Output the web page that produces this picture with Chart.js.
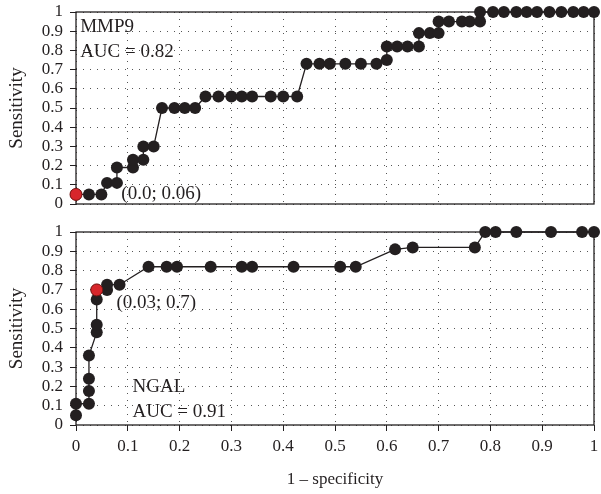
<!DOCTYPE html>
<html>
<head>
<meta charset="utf-8">
<script src="https://cdn.jsdelivr.net/npm/chart.js@4/dist/chart.umd.min.js"></script>
<style>
  html, body { margin: 0; padding: 0; background: #fff; }
  #wrap { position: relative; width: 601px; height: 494px; }
  .box { position: absolute; left: 0; width: 601px; }
  #top-box { top: 0; height: 218px; }
  #bottom-box { top: 218px; height: 276px; }
</style>
</head>
<body>
<div id="wrap">
  <div class="box" id="top-box"><canvas id="mmp9-chart"></canvas></div>
  <div class="box" id="bottom-box"><canvas id="ngal-chart"></canvas></div>
</div>
<script>
// tick labels
const xTicks = ['0', '0.1', '0.2', '0.3', '0.4', '0.5', '0.6', '0.7', '0.8', '0.9', '1'];
const yTicks = ['0', '0.1', '0.2', '0.3', '0.4', '0.5', '0.6', '0.7', '0.8', '0.9', '1'];

// MMP9 ROC curve (1 - specificity, sensitivity)
const mmp9X = [0, 0.025, 0.049, 0.06, 0.079, 0.079, 0.11, 0.11, 0.13, 0.13, 0.15,
  0.166, 0.19, 0.21, 0.23, 0.25, 0.275, 0.30, 0.32, 0.34, 0.376, 0.40, 0.427,
  0.445, 0.47, 0.49, 0.52, 0.55, 0.58, 0.60, 0.60, 0.62, 0.64, 0.662, 0.662,
  0.683, 0.70, 0.70, 0.72, 0.745, 0.76, 0.78, 0.78, 0.805, 0.826, 0.85, 0.87,
  0.89, 0.914, 0.937, 0.96, 0.98, 1];
const mmp9Y = [0.05, 0.05, 0.05, 0.11, 0.11, 0.19, 0.19, 0.23, 0.23, 0.30, 0.30,
  0.50, 0.50, 0.50, 0.50, 0.56, 0.56, 0.56, 0.56, 0.56, 0.56, 0.56, 0.56,
  0.73, 0.73, 0.73, 0.73, 0.73, 0.73, 0.75, 0.82, 0.82, 0.82, 0.82, 0.89,
  0.89, 0.89, 0.95, 0.95, 0.95, 0.95, 0.95, 1, 1, 1, 1, 1,
  1, 1, 1, 1, 1, 1];
const mmp9Cut = [0, 0.05];

// NGAL ROC curve
const ngalX = [0, 0, 0.025, 0.025, 0.025, 0.025, 0.04, 0.04, 0.04, 0.04, 0.06, 0.06,
  0.084, 0.14, 0.175, 0.195, 0.26, 0.32, 0.34, 0.42, 0.51, 0.54, 0.616, 0.65,
  0.77, 0.79, 0.81, 0.85, 0.917, 0.977, 1];
const ngalY = [0.05, 0.11, 0.11, 0.176, 0.24, 0.36, 0.48, 0.52, 0.65, 0.70, 0.70, 0.727,
  0.727, 0.82, 0.82, 0.82, 0.82, 0.82, 0.82, 0.82, 0.82, 0.82, 0.91, 0.92,
  0.92, 1, 1, 1, 1, 1, 1];
const ngalCut = [0.04, 0.70];

const ink = '#231f20';
const serif = "'Liberation Serif', 'DejaVu Serif', serif";

// frame round the plot area (top and right edges too)
const framePlugin = {
    id: 'frame',
    beforeDatasetsDraw(chart) {
        const { ctx, chartArea: a } = chart;
        ctx.save();
        ctx.strokeStyle = ink;
        ctx.lineWidth = 1.3;
        ctx.strokeRect(a.left, a.top, a.right - a.left, a.bottom - a.top);
        ctx.restore();
    }
};

// text labels placed at data coordinates
const notesPlugin = {
    id: 'notes',
    afterDraw(chart, args, opts) {
        const { ctx, scales } = chart;
        ctx.save();
        ctx.fillStyle = ink;
        ctx.font = '19px ' + serif;
        ctx.textBaseline = 'alphabetic';
        ctx.textAlign = 'left';
        (opts.items || []).forEach(n => {
            ctx.fillText(n.text, scales.x.getPixelForValue(n.x), scales.y.getPixelForValue(n.y));
        });
        ctx.restore();
    }
};

function toPoints(xs, ys) {
    return xs.map((x, i) => ({ x: x, y: ys[i] }));
}

function makeChart(id, xs, ys, cut, notes, showX) {
    return new Chart(document.getElementById(id), {
        type: 'scatter',
        data: {
            datasets: [{
                data: [{ x: cut[0], y: cut[1] }],
                pointRadius: 6,
                pointBackgroundColor: '#d7262b',
                pointBorderColor: '#7a1512',
                pointBorderWidth: 1,
                order: 0
            }, {
                data: toPoints(xs, ys),
                showLine: true,
                borderColor: ink,
                borderWidth: 1.3,
                pointRadius: 6,
                pointBackgroundColor: ink,
                pointBorderColor: ink,
                pointBorderWidth: 0,
                order: 1
            }]
        },
        options: {
            responsive: true,
            maintainAspectRatio: false,
            animation: false,
            clip: false,
            layout: {
                padding: { left: 0, right: 3, top: showX ? 14 : 12, bottom: 0 }
            },
            plugins: {
                legend: { display: false },
                tooltip: { enabled: false },
                notes: { items: notes }
            },
            scales: {
                x: {
                    type: 'linear',
                    min: 0,
                    max: 1,
                    afterFit: s => {
                        s.height = showX ? 69 : 14;
                        s.paddingLeft = 0;
                        s.paddingRight = 0;
                    },
                    ticks: {
                        display: showX,
                        stepSize: 0.1,
                        autoSkip: false,
                        maxRotation: 0,
                        padding: 5,
                        color: ink,
                        font: { family: serif, size: 17 },
                        callback: (v, i) => xTicks[i]
                    },
                    grid: {
                        color: '#555',
                        lineWidth: 1,
                        tickLength: 6,
                        tickColor: ink,
                        tickBorderDash: [],
                        drawTicks: showX
                    },
                    border: { display: false, dash: [1, 6] },
                    title: {
                        display: showX,
                        text: '1 – specificity',
                        color: ink,
                        font: { family: serif, size: 17 },
                        padding: { top: 0, bottom: 4 }
                    }
                },
                y: {
                    min: 0,
                    max: 1,
                    afterFit: s => {
                        s.width = 76;
                        s.paddingTop = 0;
                        s.paddingBottom = 0;
                    },
                    ticks: {
                        stepSize: 0.1,
                        autoSkip: false,
                        padding: 7,
                        color: ink,
                        font: { family: serif, size: 17 },
                        callback: (v, i) => yTicks[i]
                    },
                    grid: {
                        color: '#555',
                        lineWidth: 1,
                        tickLength: 6,
                        tickColor: ink,
                        tickBorderDash: []
                    },
                    border: { display: false, dash: [1, 6] },
                    title: {
                        display: true,
                        text: 'Sensitivity',
                        color: ink,
                        font: { family: serif, size: 19 },
                        padding: { top: 6, bottom: 0 }
                    }
                }
            }
        },
        plugins: [framePlugin, notesPlugin]
    });
}

makeChart('mmp9-chart', mmp9X, mmp9Y, mmp9Cut, [
    { text: 'MMP9', x: 0.008, y: 0.895 },
    { text: 'AUC = 0.82', x: 0.008, y: 0.766 },
    { text: '(0.0; 0.06)', x: 0.0875, y: 0.026 }
], false);

makeChart('ngal-chart', ngalX, ngalY, ngalCut, [
    { text: '(0.03; 0.7)', x: 0.078, y: 0.606 },
    { text: 'NGAL', x: 0.109, y: 0.173 },
    { text: 'AUC = 0.91', x: 0.109, y: 0.043 }
], true);
</script>
</body>
</html>
